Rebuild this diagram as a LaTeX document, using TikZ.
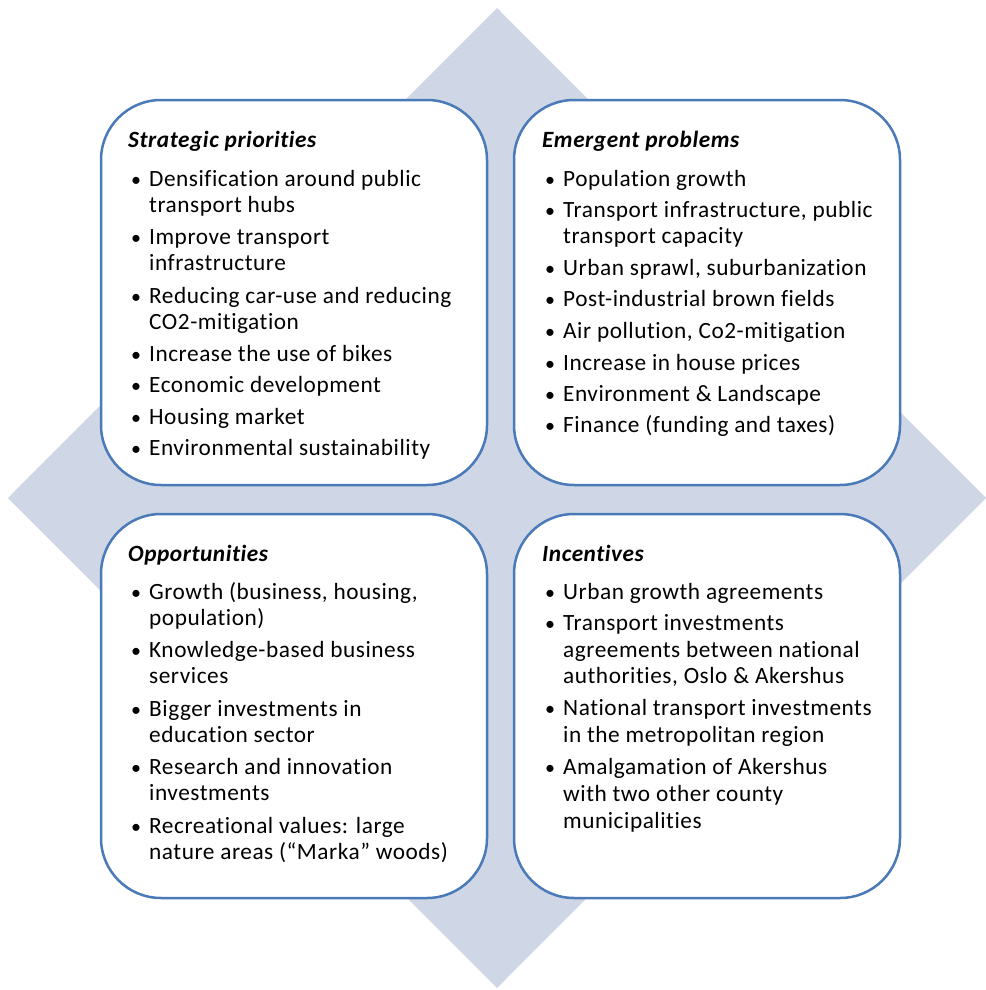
\documentclass[tikz,border=0pt]{standalone}
\usepackage{fontspec}
\setmainfont{Carlito}[LetterSpace=2.3, Ligatures={NoCommon}]
\definecolor{diafill}{RGB}{207,214,229}
\definecolor{boxline}{RGB}{74,122,183}
\newcommand\bl[1]{\hspace*{8pt}\makebox[0pt][c]{\fontsize{20}{20}\selectfont\textbullet}\hspace*{13pt}#1}
\newcommand\cl[1]{\hspace*{21pt}#1}
\newcommand\ttl[1]{\textbf{\textit{#1}}}
\tikzset{
  quad/.style={draw=boxline, line width=2.5pt, fill=white, rounded corners=60pt},
  txt/.style={anchor=north west, inner sep=0pt, align=left, font=\fontsize{23.3}{26}\selectfont},
}
\begin{document}
\begin{tikzpicture}[x=1pt,y=-1pt]
\useasboundingbox (0,0) rectangle (985,990);
\fill[diafill] (497,8) -- (986,498) -- (497,988) -- (8,498) -- cycle;
\draw[quad] (101,100) rectangle (487,485);
\draw[quad] (514,100) rectangle (900,485);
\draw[quad] (101,514) rectangle (487,898);
\draw[quad] (514,514) rectangle (900,898);
\node[txt] (sp) at (128,130.5) {\ttl{Strategic priorities}\\[13pt]
\bl{Densification around public}\\
\cl{transport hubs}\\[6.5pt]
\bl{Improve transport}\\
\cl{infrastructure}\\[6.5pt]
\bl{Reducing car-use and reducing}\\
\cl{CO2-mitigation}\\[6pt]
\bl{Increase the use of bikes}\\[5.5pt]
\bl{Economic development}\\[5.5pt]
\bl{Housing market}\\[5.5pt]
\bl{Environmental sustainability}};
\node[txt] (ep) at (542,130.5) {\ttl{Emergent problems}\\[13pt]
\bl{Population growth}\\[5pt]
\bl{Transport infrastructure, public}\\
\cl{transport capacity}\\[6pt]
\bl{Urban sprawl, suburbanization}\\[5pt]
\bl{Post-industrial brown fields}\\[6pt]
\bl{Air pollution, Co2-mitigation}\\[6pt]
\bl{Increase in house prices}\\[5pt]
\bl{Environment \& Landscape}\\[5pt]
\bl{Finance (funding and taxes)}};
\node[txt] (op) at (128,544.5) {\ttl{Opportunities}\\[12pt]
\bl{Growth (business, housing,}\\
\cl{population)}\\[6pt]
\bl{Knowledge-based business}\\
\cl{services}\\[7pt]
\bl{Bigger investments in}\\
\cl{education sector}\\[6pt]
\bl{Research and innovation}\\
\cl{investments}\\[7pt]
\bl{Recreational values: large}\\
\cl{nature areas (“Marka” woods)}};
\node[txt] (in) at (542,544.5) {\ttl{Incentives}\\[12pt]
\bl{Urban growth agreements}\\[5pt]
\bl{Transport investments}\\[1.5pt]
\cl{agreements between national}\\
\cl{authorities, Oslo \& Akershus}\\[6pt]
\bl{National transport investments}\\[1pt]
\cl{in the metropolitan region}\\[6pt]
\bl{Amalgamation of Akershus}\\[1pt]
\cl{with two other county}\\[1pt]
\cl{municipalities}};
\end{tikzpicture}
\end{document}
